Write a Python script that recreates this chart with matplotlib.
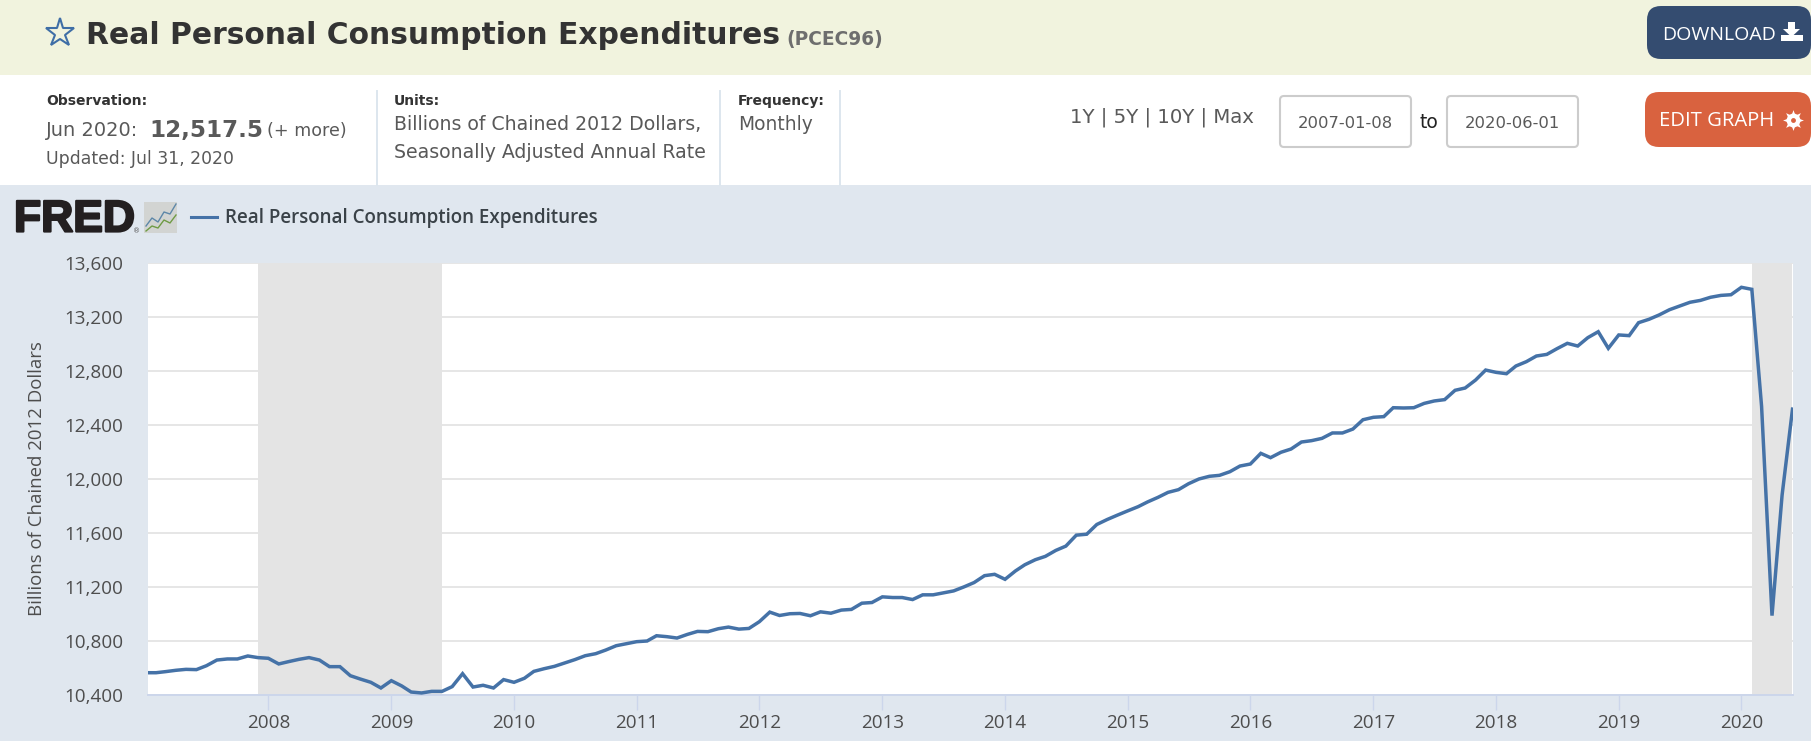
import datetime as dt
import matplotlib
matplotlib.use("Agg")
import matplotlib.pyplot as plt
import matplotlib.dates as mdates
import matplotlib.patheffects as pe
from matplotlib.patches import FancyBboxPatch, Rectangle, Polygon
from matplotlib.ticker import FuncFormatter

# monthly values, Jan 2007 - Jun 2020
values_2007 = [10565, 10565, 10573, 10583, 10590, 10588, 10617, 10659, 10667, 10667, 10689, 10677]
values_2008 = [10672, 10630, 10647, 10664, 10677, 10659, 10610, 10610, 10543, 10518, 10494, 10452]
values_2009 = [10506, 10467, 10422, 10415, 10427, 10427, 10462, 10558, 10459, 10472, 10452, 10514]
values_2010 = [10494, 10524, 10575, 10595, 10612, 10637, 10662, 10691, 10706, 10733, 10765, 10780]
values_2011 = [10795, 10800, 10839, 10832, 10822, 10849, 10871, 10869, 10891, 10903, 10888, 10893]
values_2012 = [10943, 11014, 10989, 11002, 11004, 10987, 11016, 11006, 11029, 11034, 11080, 11085]
values_2013 = [11127, 11122, 11122, 11107, 11142, 11142, 11156, 11171, 11201, 11233, 11284, 11294]
values_2014 = [11257, 11319, 11365, 11402, 11427, 11471, 11503, 11584, 11591, 11663, 11700, 11732]
values_2015 = [11764, 11795, 11830, 11864, 11901, 11921, 11965, 12000, 12020, 12027, 12054, 12096]
values_2016 = [12111, 12190, 12158, 12198, 12222, 12274, 12284, 12301, 12341, 12341, 12370, 12439]
values_2017 = [12457, 12462, 12528, 12526, 12528, 12560, 12578, 12588, 12657, 12674, 12733, 12807]
values_2018 = [12790, 12780, 12837, 12869, 12911, 12923, 12965, 13005, 12985, 13047, 13091, 12968]
values_2019 = [13067, 13062, 13158, 13183, 13215, 13254, 13281, 13309, 13323, 13346, 13360, 13365]
values_2020 = [13420, 13405, 12538, 10988, 11880, 12517.5]

all_values = (values_2007 + values_2008 + values_2009 + values_2010 + values_2011 + values_2012
              + values_2013 + values_2014 + values_2015 + values_2016 + values_2017 + values_2018
              + values_2019 + values_2020)
dates = [dt.datetime(2007 + i // 12, i % 12 + 1, 1) for i in range(len(all_values))]

y_ticks = [10400, 10800, 11200, 11600, 12000, 12400, 12800, 13200, 13600]
x_years = list(range(2008, 2021))
recessions = [(dt.datetime(2007, 12, 1), dt.datetime(2009, 6, 1)),
              (dt.datetime(2020, 2, 1), dt.datetime(2020, 6, 1))]

W, H = 1811, 741
BLUE = "#4572a7"
GREY = "#595959"
DARK = "#333333"
CHART_FONT = "Open Sans"

fig = plt.figure(figsize=(W / 100, H / 100), dpi=100, facecolor="white")

# page furniture, drawn in pixel coordinates
ui = fig.add_axes([0, 0, 1, 1])
ui.set_xlim(0, W)
ui.set_ylim(H, 0)
ui.axis("off")
ui.add_patch(Rectangle((0, 0), W, 75, fc="#f1f3de", ec="none"))
ui.add_patch(Rectangle((0, 185), W, H - 185, fc="#e0e7ef", ec="none"))

ui.plot([60], [33], marker="*", ms=21, mfc="none", mec="#3f6ea6", mew=1.5)
ui.text(86, 35, "Real Personal Consumption Expenditures", fontsize=21.4, fontweight="bold",
        color=DARK, va="center")
ui.text(786, 39, "(PCEC96)", fontsize=13.4, fontweight="bold", color="#6e6e6e", va="center")

ui.text(46, 101, "Observation:", fontsize=10, fontweight="bold", color=DARK, va="center")
ui.text(46, 131, "Jun 2020:", fontsize=14, color=GREY, va="center")
ui.text(149, 131, "12,517.5", fontsize=16.6, fontweight="bold", color=GREY, va="center")
ui.text(267, 131, "(+ more)", fontsize=12.6, color=GREY, va="center")
ui.text(46, 159, "Updated: Jul 31, 2020", fontsize=12.4, color=GREY, va="center")

for x in [377, 720, 840]:
    ui.plot([x, x], [91, 185], color="#dde6ee", lw=1.4)

ui.text(394, 101, "Units:", fontsize=10, fontweight="bold", color=DARK, va="center")
ui.text(394, 125, "Billions of Chained 2012 Dollars,", fontsize=13.6, color=GREY, va="center")
ui.text(394, 152, "Seasonally Adjusted Annual Rate", fontsize=13.6, color=GREY, va="center")
ui.text(738, 101, "Frequency:", fontsize=10, fontweight="bold", color=DARK, va="center")
ui.text(738, 125, "Monthly", fontsize=13.4, color=GREY, va="center")

ui.text(1070, 117, "1Y | 5Y | 10Y | Max", fontsize=14.2, color=GREY, va="center")
for x0, x1, label in [(1280, 1411, "2007-01-08"), (1447, 1578, "2020-06-01")]:
    ui.add_patch(FancyBboxPatch((x0, 96), x1 - x0, 51, boxstyle="round,pad=0,rounding_size=4",
                                fc="white", ec="#cccccc", lw=1.5))
    ui.text((x0 + x1) / 2, 123, label, fontsize=11.8, color=GREY, ha="center", va="center")
ui.text(1429, 123, "to", fontsize=13.5, color="#222222", ha="center", va="center")

ui.add_patch(FancyBboxPatch((1647, 6), 164, 53, boxstyle="round,pad=0,rounding_size=14",
                            fc="#344c70", ec="none"))
ui.text(1662, 35, "DOWNLOAD", fontsize=14, family=CHART_FONT, color="white", va="center")
ui.add_patch(Polygon([[1788, 22], [1795, 22], [1795, 29], [1800, 29], [1791.5, 37], [1783, 29], [1788, 29]],
                     fc="white", ec="none"))
ui.add_patch(Rectangle((1781, 35), 22, 6, fc="white", ec="none"))

ui.add_patch(FancyBboxPatch((1645, 92), 166, 55, boxstyle="round,pad=0,rounding_size=14",
                            fc="#d9623f", ec="none"))
ui.text(1659, 121, "EDIT GRAPH", fontsize=14.6, family=CHART_FONT, color="white", va="center")
ui.plot([1793], [120], marker=(8, 1, 0), ms=15, color="white", mew=0)
ui.plot([1793], [120], marker="o", ms=10, color="white", mew=0)
ui.plot([1793], [120], marker="o", ms=3.5, color="#d9623f", mew=0)

# FRED logo and legend
ui.text(14, 220, "FRED", fontsize=32, fontweight="bold", family="Liberation Sans", color="#231f20",
        va="center", path_effects=[pe.withStroke(linewidth=1.6, foreground="#231f20")])
ui.text(137, 231, "\u00ae", fontsize=5, color="#555555", ha="center", va="center")
ui.add_patch(Rectangle((144, 202), 33, 31, fc="#d2d4d2", ec="none"))
ui.plot([146, 152, 158, 164, 170, 176], [226, 218, 222, 212, 214, 204], color="#5d87a8", lw=1)
ui.plot([146, 152, 158, 164, 170, 176], [231, 226, 228, 220, 223, 215], color="#6f9b45", lw=1)
ui.plot([191, 217], [217, 217], color=BLUE, lw=2.2)
ui.text(225, 218, "Real Personal Consumption Expenditures", fontsize=13.5, family=CHART_FONT,
        fontweight="semibold", color="#3a4248", va="center")

# the chart itself
ax = fig.add_axes([148 / W, 1 - 695 / H, (1792.5 - 148) / W, (695 - 263) / H])
ax.set_facecolor("white")
ax.plot(dates, all_values, color=BLUE, lw=2.5, zorder=4, solid_joinstyle="miter")
for start, end in recessions:
    ax.axvspan(start, end, fc="#e4e4e4", ec="none", zorder=2)

ax.set_xlim(dt.datetime(2007, 1, 8), dt.datetime(2020, 6, 1))
ax.set_ylim(10400, 13600)
ax.set_yticks(y_ticks)
ax.yaxis.set_major_formatter(FuncFormatter(lambda v, pos: f"{int(v):,}"))
ax.set_xticks([dt.datetime(y, 1, 1) for y in x_years])
ax.xaxis.set_major_formatter(mdates.DateFormatter("%Y"))
ax.grid(axis="y", color="#e6e6e6", lw=1.4, zorder=1)
ax.set_axisbelow(True)
for side in ["top", "left", "right"]:
    ax.spines[side].set_visible(False)
ax.spines["bottom"].set_color("#ccd6eb")
ax.spines["bottom"].set_linewidth(1.4)
ax.tick_params(axis="y", length=0, pad=18, labelsize=13.6, labelcolor="#4d4d4d")
ax.tick_params(axis="x", length=11, width=1, color="#ccd6eb", pad=3, labelsize=13.6, labelcolor="#4d4d4d")
for label in ax.get_xticklabels() + ax.get_yticklabels():
    label.set_fontfamily(CHART_FONT)
ui.text(37, 479, "Billions of Chained 2012 Dollars", rotation=90, fontsize=13.4, family=CHART_FONT,
        color="#4d4d4d", ha="center", va="center")

fig.savefig("out.png", dpi=100)
